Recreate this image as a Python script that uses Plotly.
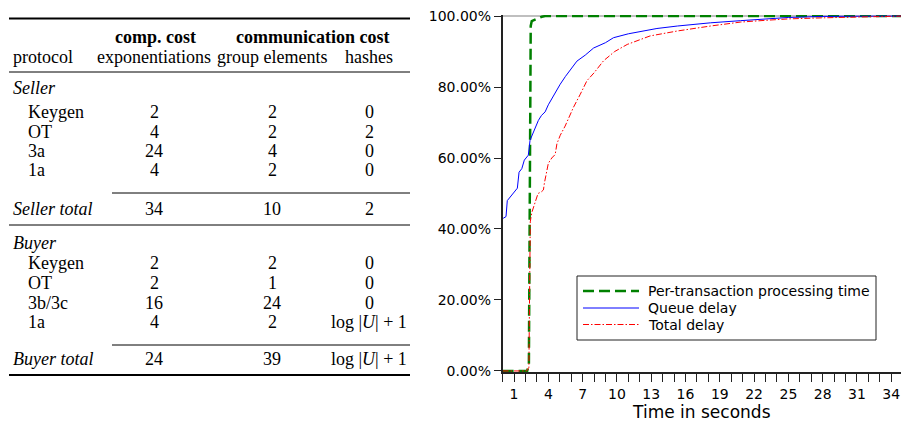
import plotly.graph_objects as go

W, H = 901, 422

# ---- table data ----
header_top = ["comp. cost", "communication cost"]
header_sub = ["protocol", "exponentiations", "group elements", "hashes"]
seller_steps = ["Keygen", "OT", "3a", "1a"]
seller_exp = ["2", "4", "24", "4"]
seller_group = ["2", "2", "4", "2"]
seller_hash = ["0", "2", "0", "0"]
seller_total = ["34", "10", "2"]
buyer_steps = ["Keygen", "OT", "3b/3c", "1a"]
buyer_exp = ["2", "2", "16", "4"]
buyer_group = ["2", "1", "24", "2"]
buyer_hash = ["0", "0", "0", "log |<i>U</i>| + 1"]
buyer_total = ["24", "39", "log |<i>U</i>| + 1"]

# ---- CDF data (fraction of transactions vs seconds) ----
series_names = ["Per-transaction processing time", "Queue delay", "Total delay"]

proc_x = [0, 2.15, 2.3, 2.37, 2.4, 2.46, 2.55, 2.84, 3.13, 3.43, 3.72, 35]
proc_y = [0, 0, 0.02, 0.5, 0.94, 0.972, 0.986, 0.989, 0.994, 0.998, 1.0, 1.0]

queue_x = [0.05, 0.3, 0.41, 0.65, 0.9, 1.09, 1.29, 1.44, 1.68, 1.9, 2.25, 2.4, 2.6,
           2.84, 3.13, 3.4, 3.72, 4.0, 4.5, 5.04, 5.5, 6.0, 6.5, 7.23, 7.96, 9.0,
           9.7, 11.0, 12.3, 13.5, 15.3, 16.5, 18.2, 20.8, 23, 25, 28, 31, 35]
queue_y = [0.43, 0.435, 0.48, 0.49, 0.50, 0.51, 0.515, 0.56, 0.57, 0.594, 0.608, 0.65, 0.665,
           0.68, 0.706, 0.72, 0.73, 0.75, 0.78, 0.808, 0.83, 0.85, 0.873, 0.89, 0.91, 0.925,
           0.939, 0.95, 0.958, 0.965, 0.972, 0.976, 0.981, 0.987, 0.992, 0.996, 0.999, 1.0, 1.0]

total_x = [0, 2.1, 2.3, 2.36, 2.42, 2.55, 2.8, 3.1, 3.4, 3.57, 3.66, 4.0, 4.3, 4.6, 4.75,
           5.04, 5.47, 6.2, 6.8, 7.38, 8.0, 8.83, 9.8, 10.9, 12.9, 15.3, 18.2, 20.8,
           23, 25, 28, 31, 34, 35]
total_y = [0, 0, 0.01, 0.36, 0.42, 0.446, 0.473, 0.50, 0.505, 0.51, 0.53, 0.585, 0.60, 0.61, 0.64,
           0.664, 0.69, 0.743, 0.78, 0.818, 0.84, 0.874, 0.90, 0.92, 0.944, 0.958, 0.972, 0.983,
           0.988, 0.992, 0.995, 0.998, 1.0, 1.0]

x_ticks = list(range(1, 35, 3))
y_ticks = [0, 0.2, 0.4, 0.6, 0.8, 1.0]

line_styles = [
    dict(color="#008000", width=2.5, dash="11px,5px"),
    dict(color="#0000ff", width=1),
    dict(color="#ff0000", width=1, dash="6px,2px,1.5px,2px"),
]


def px(x):
    return x / W


def py(y):
    return 1 - y / H


fig = go.Figure()
for name, xs, ys, st in zip(series_names, [proc_x, queue_x, total_x],
                            [proc_y, queue_y, total_y], line_styles):
    fig.add_trace(go.Scatter(x=xs, y=ys, mode="lines", name=name, line=st,
                             showlegend=False))

serif = "Liberation Serif"
tfont = dict(family=serif, size=18, color="black")
bfont = dict(family=serif, size=18, color="black", weight="bold")

annotations = []


def cell(text, x, y, anchor="center", font=tfont):
    annotations.append(dict(text=text, x=px(x), y=py(y), xref="paper", yref="paper",
                            xanchor=anchor, yanchor="middle", showarrow=False, font=font))


col_x = [154, 272, 369]
cell(header_top[0], 155, 37, font=bfont)
cell(header_top[1], 312, 37, font=bfont)
cell(header_sub[0], 11, 57, anchor="left")
for i, h in enumerate(header_sub[1:]):
    cell(h, col_x[i], 57)

cell("<i>Seller</i>", 11, 88, anchor="left")
seller_rows = [111.5, 131.5, 151, 170]
for i, r in enumerate(seller_rows):
    cell(seller_steps[i], 26, r, anchor="left")
    cell(seller_exp[i], col_x[0], r)
    cell(seller_group[i], col_x[1], r)
    cell(seller_hash[i], col_x[2], r)
cell("<i>Seller total</i>", 11, 208.5, anchor="left")
for i, v in enumerate(seller_total):
    cell(v, col_x[i], 208.5)

cell("<i>Buyer</i>", 11, 243, anchor="left")
buyer_rows = [263, 283, 302.5, 321.5]
for i, r in enumerate(buyer_rows):
    cell(buyer_steps[i], 26, r, anchor="left")
    cell(buyer_exp[i], col_x[0], r)
    cell(buyer_group[i], col_x[1], r)
    cell(buyer_hash[i], col_x[2], r)
cell("<i>Buyer total</i>", 11, 358.5, anchor="left")
for i, v in enumerate(buyer_total):
    cell(v, col_x[i], 358.5)

shapes = []


def rule(x0, x1, y, w):
    shapes.append(dict(type="line", xref="paper", yref="paper", x0=px(x0), x1=px(x1),
                       y0=py(y), y1=py(y), line=dict(color="black", width=w)))


rule(9, 410, 18.5, 1.8)
rule(9, 410, 72, 1)
rule(112, 410, 193, 1)
rule(9, 410, 225, 1)
rule(112, 410, 345, 1)
rule(9, 410, 375, 1.8)

# grey line at 100%
shapes.append(dict(type="line", xref="x", yref="y", x0=0, x1=35, y0=1, y1=1,
                   line=dict(color="#aaaaaa", width=1.5), layer="below"))

# legend box drawn by hand (matplotlib-like spacing)
shapes.append(dict(type="rect", xref="paper", yref="paper", x0=px(577), x1=px(876),
                   y0=py(340), y1=py(276), line=dict(color="#222222", width=1),
                   fillcolor="white", layer="above"))
legend_rows = [291, 308, 324.5]
for name, st, r in zip(series_names, line_styles, legend_rows):
    shapes.append(dict(type="line", xref="paper", yref="paper", x0=px(583), x1=px(639),
                       y0=py(r), y1=py(r), line=st, layer="above"))
    annotations.append(dict(text=name, x=px(646), y=py(r), xref="paper", yref="paper",
                            xanchor="left", yanchor="middle", showarrow=False,
                            font=dict(family="DejaVu Sans", size=14, color="black")))

fig.update_layout(
    width=W, height=H,
    margin=dict(l=0, r=0, t=0, b=0),
    plot_bgcolor="white", paper_bgcolor="white",
    font=dict(family="DejaVu Sans", size=14, color="black"),
    annotations=annotations,
    shapes=shapes,
    showlegend=False,
    xaxis=dict(domain=[px(502.6), 1.0], range=[0, 34.85], tickvals=x_ticks,
               ticks="outside", ticklen=8, tickcolor="#222222", showgrid=False,
               showline=True, linecolor="#222222", linewidth=1.5, zeroline=False,
               minor=dict(dtick=1, tick0=0, ticks="outside", ticklen=8, tickcolor="#222222"),
               title=dict(text="Time in seconds", font=dict(size=17), standoff=2),
               automargin=False, tickfont=dict(size=14)),
    yaxis=dict(domain=[py(372), py(15)], range=[-0.003, 1.003], tickvals=y_ticks,
               tickformat=".2%", ticks="outside", ticklen=7, tickcolor="#222222",
               showgrid=False, showline=True, linecolor="#222222", linewidth=1.5,
               zeroline=False, automargin=False, tickfont=dict(size=14)),
)

fig.write_html("out.html", config={"displayModeBar": False},
               post_script="document.body.style.margin='0';")
